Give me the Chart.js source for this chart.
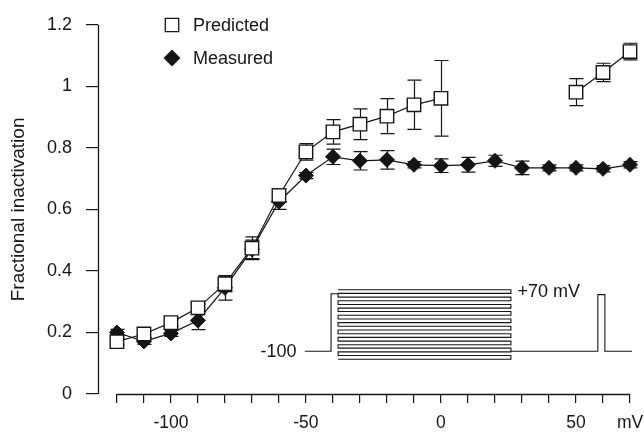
<!DOCTYPE html>
<html>
<head>
<meta charset="utf-8">
<script src="https://cdn.jsdelivr.net/npm/chart.js@4/dist/chart.umd.min.js"></script>
<style>
  html, body { margin: 0; padding: 0; background: #fff; }
  #wrap { width: 644px; height: 435px; }
</style>
</head>
<body>
<div id="wrap"><canvas id="inactChart" width="644" height="435"></canvas></div>
<script>
// membrane potential (mV)
const voltages = [-120, -110, -100, -90, -80, -70, -60, -50, -40, -30, -20, -10, 0, 10, 20, 30, 40, 50, 60, 70];

// predicted fractional inactivation (no values between 10 and 40 mV)
const predicted = [0.17, 0.195, 0.232, 0.28, 0.358, 0.474, 0.645, 0.787, 0.852, 0.877, 0.903, 0.94, 0.961, null, null, null, null, 0.981, 1.045, 1.113];
const predictedErr = [0.01, 0.01, 0.012, 0.012, 0.025, 0.037, 0.022, 0.027, 0.04, 0.05, 0.057, 0.08, 0.123, null, null, null, null, 0.044, 0.03, 0.027];

const measured = [0.2, 0.171, 0.197, 0.239, 0.345, 0.47, 0.625, 0.71, 0.771, 0.758, 0.761, 0.745, 0.742, 0.745, 0.758, 0.735, 0.735, 0.735, 0.732, 0.745];
const measuredErr = [0.01, 0.01, 0.01, 0.03, 0.04, 0.03, 0.025, 0.01, 0.025, 0.03, 0.03, 0.01, 0.022, 0.024, 0.018, 0.022, 0.01, 0.01, 0.01, 0.01];

// axis ticks
const yTicks = [0, 0.2, 0.4, 0.6, 0.8, 1, 1.2];
const xTicks = [-120, -110, -100, -90, -80, -70, -60, -50, -40, -30, -20, -10, 0, 10, 20, 30, 40, 50, 60, 70];
const xTickLabels = ['', '', '-100', '', '', '', '', '-50', '', '', '', '', '0', '', '', '', '', '50', '', 'mV'];

// inset: voltage protocol sketch, drawn in the plot's own units
const protocolPreX = [-50.4, -40.7, -40.7, -38.1];
const protocolPreY = [0.139, 0.139, 0.326, 0.326];
const protocolPostX = [25.9, 58.1, 58.1, 60.7, 60.7, 70.7];
const protocolPostY = [0.139, 0.139, 0.323, 0.323, 0.139, 0.139];
const boxLeft = -38.1;
const boxRight = 25.9;
const boxLevels = [0.339, 0.327, 0.315, 0.303, 0.291, 0.279, 0.268, 0.256, 0.244, 0.232, 0.220, 0.208, 0.196, 0.184, 0.172, 0.160, 0.149, 0.137, 0.125, 0.113];

const INK = '#151515';
const FONT = '"Liberation Sans", Arial, Helvetica, sans-serif';

function toPoints(xs, ys) {
    return xs.map((x, i) => ({ x: x, y: ys[i] }));
}

// zigzag through the conditioning levels so the box gets its sides too
function boxPoints() {
    const pts = [];
    boxLevels.forEach((lvl, i) => {
        if (i % 2 === 0) {
            pts.push({ x: boxLeft, y: lvl }, { x: boxRight, y: lvl });
        } else {
            pts.push({ x: boxRight, y: lvl }, { x: boxLeft, y: lvl });
        }
    });
    return pts;
}

// error bars, axis lines, legend and inset labels
const extrasPlugin = {
    id: 'extras',
    beforeDatasetsDraw(chart) {
        const { ctx, scales: { x, y } } = chart;
        ctx.save();
        ctx.strokeStyle = INK;
        ctx.lineWidth = 1.2;
        const bars = [[predicted, predictedErr], [measured, measuredErr]];
        bars.forEach(([vals, errs]) => {
            vals.forEach((v, i) => {
                if (v === null || errs[i] === null) return;
                const px = Math.round(x.getPixelForValue(voltages[i])) + 0.5;
                const top = y.getPixelForValue(v + errs[i]);
                const bot = y.getPixelForValue(v - errs[i]);
                ctx.beginPath();
                ctx.moveTo(px, top); ctx.lineTo(px, bot);
                ctx.moveTo(px - 7, top); ctx.lineTo(px + 7, top);
                ctx.moveTo(px - 7, bot); ctx.lineTo(px + 7, bot);
                ctx.stroke();
            });
        });
        ctx.restore();
    },
    afterDraw(chart) {
        const { ctx, scales: { x, y } } = chart;
        ctx.save();
        ctx.strokeStyle = INK;
        ctx.lineWidth = 1.3;
        // detached axis lines
        const yx = Math.round(x.getPixelForValue(-127)) + 0.5;
        ctx.beginPath();
        ctx.moveTo(yx, y.getPixelForValue(1.2));
        ctx.lineTo(yx, y.getPixelForValue(0));
        const xy = Math.round(y.getPixelForValue(0)) + 0.5;
        ctx.moveTo(x.getPixelForValue(-120), xy);
        ctx.lineTo(x.getPixelForValue(70), xy);
        ctx.stroke();

        // legend
        ctx.font = '18px ' + FONT;
        ctx.fillStyle = INK;
        ctx.textBaseline = 'middle';
        const items = [
            { label: 'Predicted', style: 'rect', r: 9.5, fill: '#fff', y: 25 },
            { label: 'Measured', style: 'rectRot', r: 7.5, fill: INK, y: 58 }
        ];
        items.forEach(it => {
            ctx.fillStyle = it.fill;
            ctx.strokeStyle = INK;
            ctx.lineWidth = 1.3;
            Chart.helpers.drawPoint(ctx, { pointStyle: it.style, radius: it.r, borderWidth: 1.3 }, 172, it.y);
            ctx.fillStyle = INK;
            ctx.fillText(it.label, 193, it.y + 1);
        });

        // inset labels
        ctx.textAlign = 'right';
        ctx.fillText('-100', x.getPixelForValue(-53.5), y.getPixelForValue(0.139) + 1);
        ctx.textAlign = 'left';
        ctx.fillText('+70 mV', x.getPixelForValue(28.3), y.getPixelForValue(0.335) + 1);
        ctx.restore();
    }
};

const lineStyle = { showLine: true, borderColor: INK, borderWidth: 1.1, pointRadius: 0, clip: false, order: 5 };

new Chart(document.getElementById('inactChart').getContext('2d'), {
    type: 'scatter',
    data: {
        datasets: [
            {
                label: 'Predicted',
                data: toPoints(voltages, predicted),
                showLine: true,
                spanGaps: false,
                borderColor: INK,
                borderWidth: 1.2,
                pointStyle: 'rect',
                pointRadius: 9.5,
                pointBackgroundColor: '#fff',
                pointBorderColor: INK,
                pointBorderWidth: 1.4,
                clip: false
            },
            {
                label: 'Measured',
                data: toPoints(voltages, measured),
                showLine: true,
                borderColor: INK,
                borderWidth: 1.2,
                pointStyle: 'rectRot',
                pointRadius: 7.5,
                pointBackgroundColor: INK,
                pointBorderColor: INK,
                pointBorderWidth: 1,
                clip: false
            },
            Object.assign({ label: 'protocol-pre', data: toPoints(protocolPreX, protocolPreY) }, lineStyle),
            Object.assign({ label: 'protocol-box', data: boxPoints() }, lineStyle),
            Object.assign({ label: 'protocol-post', data: toPoints(protocolPostX, protocolPostY) }, lineStyle)
        ]
    },
    options: {
        responsive: false,
        animation: false,
        layout: { padding: { top: 22, right: 14, left: 0, bottom: 0 } },
        plugins: {
            legend: { display: false },
            tooltip: { enabled: false }
        },
        scales: {
            x: {
                type: 'linear',
                min: -127,
                max: 70,
                afterBuildTicks: scale => { scale.ticks = xTicks.map(v => ({ value: v })); },
                afterFit: scale => { scale.height = 41; scale.paddingLeft = 0; scale.paddingRight = 0; },
                border: { display: false },
                grid: { drawOnChartArea: false, tickLength: 9, color: INK, lineWidth: 1.2 },
                ticks: {
                    color: INK,
                    font: { family: FONT, size: 17.5 },
                    padding: 10,
                    maxRotation: 0,
                    autoSkip: false,
                    callback: (v, i) => xTickLabels[i]
                }
            },
            y: {
                min: 0,
                max: 1.2,
                afterBuildTicks: scale => { scale.ticks = yTicks.map(v => ({ value: v })); },
                afterFit: scale => { scale.width = 98; },
                border: { display: false },
                grid: { drawOnChartArea: false, tickLength: 12, color: INK, lineWidth: 1.2 },
                ticks: {
                    color: INK,
                    font: { family: FONT, size: 18 },
                    padding: 14,
                    callback: v => String(Math.round(v * 10) / 10)
                },
                title: {
                    display: true,
                    text: 'Fractional inactivation',
                    color: INK,
                    font: { family: FONT, size: 19 },
                    padding: { top: 7, bottom: 0 }
                }
            }
        }
    },
    plugins: [extrasPlugin]
});
</script>
</body>
</html>
